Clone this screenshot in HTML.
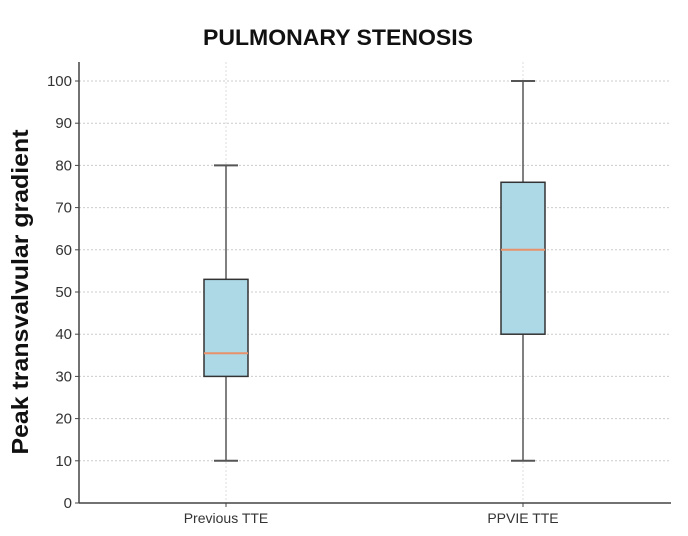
<!DOCTYPE html>
<html><head><meta charset="utf-8"><style>
body{margin:0;background:#fff;width:688px;height:536px;overflow:hidden}
svg{display:block;font-family:"Liberation Sans",sans-serif}
</style></head><body>
<svg id="chart" width="688" height="536">
<text x="338" y="45" text-anchor="middle" font-size="22" font-weight="bold" fill="#111" textLength="270" lengthAdjust="spacingAndGlyphs">PULMONARY STENOSIS</text>
<text transform="translate(28,292) rotate(-90)" text-anchor="middle" font-size="23" font-weight="bold" fill="#111" textLength="325" lengthAdjust="spacingAndGlyphs">Peak transvalvular gradient</text>
<g id="grid"></g><g id="boxes"></g><g id="axes"></g>
</svg>
<script>
const categories=["Previous TTE","PPVIE TTE"];
const mins=[10,10];
const q1s=[30,40];
const medians=[35.5,60];
const q3s=[53,76];
const maxs=[80,100];
const yTicks=[0,10,20,30,40,50,60,70,80,90,100];
const NS="http://www.w3.org/2000/svg";
const X0=79,X1=671,Y0=503,Y100=81;
const y=v=>Y0-(v/100)*(Y0-Y100);
const xc=[226,523];
const x=i=>xc[0]+i*(xc[1]-xc[0]);
function mk(p,t,a){const e=document.createElementNS(NS,t);for(const k in a)e.setAttribute(k,a[k]);p.appendChild(e);return e;}
const G=document.getElementById('grid'),B=document.getElementById('boxes'),A=document.getElementById('axes');
yTicks.forEach(v=>{
 if(v>0){const l=mk(G,'line',{x1:X0,x2:X1,y1:y(v),y2:y(v),stroke:'#ccc','stroke-width':1,'stroke-dasharray':'2,2'});
 
 }
 const t=mk(A,'text',{x:X0-7,y:y(v)+5,'text-anchor':'end','font-size':15,fill:'#333'});t.textContent=v;
 
 
 mk(A,'line',{x1:X0-4,x2:X0,y1:y(v),y2:y(v),stroke:'#444'});
});
categories.forEach((c,i)=>{
 const cx=x(i);
 const vg=mk(G,'line',{x1:cx,x2:cx,y1:62,y2:Y0,stroke:'#ddd','stroke-dasharray':'2,2'});
 
 
 const g=mk(B,'g',{});
 
 
 mk(g,'line',{x1:cx,x2:cx,y1:y(mins[i]),y2:y(q1s[i]),stroke:'#555','stroke-width':1.5});
 mk(g,'line',{x1:cx,x2:cx,y1:y(q3s[i]),y2:y(maxs[i]),stroke:'#555','stroke-width':1.5});
 mk(g,'line',{x1:cx-12,x2:cx+12,y1:y(mins[i]),y2:y(mins[i]),stroke:'#555','stroke-width':2});
 mk(g,'line',{x1:cx-12,x2:cx+12,y1:y(maxs[i]),y2:y(maxs[i]),stroke:'#555','stroke-width':2});
 mk(g,'rect',{x:cx-22,y:y(q3s[i]),width:44,height:y(q1s[i])-y(q3s[i]),fill:'#add8e6',stroke:'#333','stroke-width':1.5});
 mk(g,'line',{x1:cx-22,x2:cx+22,y1:y(medians[i]),y2:y(medians[i]),stroke:'#e8916a','stroke-width':2});
 const t=mk(A,'text',{x:cx,y:Y0+20,'text-anchor':'middle','font-size':14,fill:'#333'});t.textContent=c;
 
 
 mk(A,'line',{x1:cx,x2:cx,y1:Y0,y2:Y0+4,stroke:'#444'});
});
const ya=mk(A,'line',{x1:X0,x2:X0,y1:62,y2:Y0,stroke:'#444','stroke-width':1.5});


const xa=mk(A,'line',{x1:X0,x2:X1,y1:Y0,y2:Y0,stroke:'#444','stroke-width':1.5});


</script>
</body></html>
